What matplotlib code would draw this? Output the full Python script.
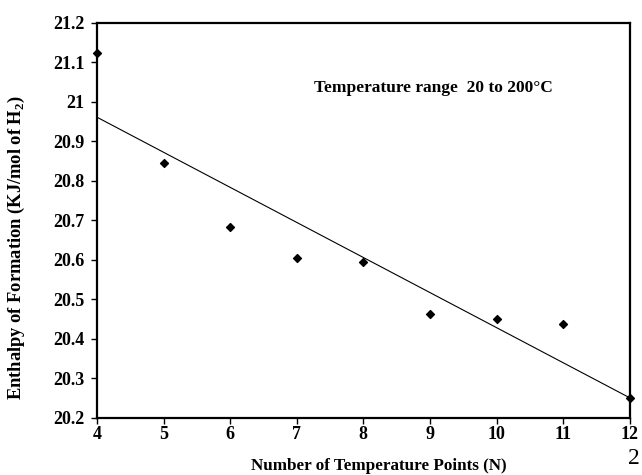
import numpy as np
import matplotlib
matplotlib.use("Agg")
from matplotlib import pyplot as plt

# data
n_points = [4, 5, 6, 7, 8, 9, 10, 11, 12]
enthalpy = [21.124, 20.846, 20.683, 20.605, 20.595, 20.463, 20.451, 20.438, 20.250]

plt.rcParams['font.family'] = ['Liberation Serif', 'DejaVu Serif']
plt.rcParams['font.weight'] = 'bold'
plt.rcParams['mathtext.fontset'] = 'custom'
plt.rcParams['mathtext.rm'] = 'Liberation Serif:bold'
plt.rcParams['mathtext.bf'] = 'Liberation Serif:bold'

fig = plt.figure(figsize=(6.42, 4.75), dpi=100)
ax = fig.add_axes([0.151, 0.12, 0.83, 0.832])

ax.scatter(n_points, enthalpy, marker='D', s=16, color='black', zorder=3, clip_on=False)

# linear trend line
coef = np.polyfit(n_points, enthalpy, 1)
xs = np.array([4, 12])
ax.plot(xs, np.polyval(coef, xs), color='black', linewidth=0.8)

ax.set_xlim(4, 12)
ax.set_ylim(20.2, 21.2)
ax.set_xticks(range(4, 13))
ax.set_yticks(np.arange(20.2, 21.21, 0.1))
ax.set_yticklabels(['20.2', '20.3', '20.4', '20.5', '20.6', '20.7', '20.8', '20.9', '21', '21.1', '21.2'])
ax.tick_params(axis='both', direction='out', length=4, width=1, labelsize=13)
ax.tick_params(axis='y', pad=5)
ax.tick_params(axis='x', pad=1.5)
for s in ax.spines.values():
    s.set_linewidth(1.6)

ax.set_xlabel('Number of Temperature Points (N)', fontsize=12.3, fontweight='bold')
ax.xaxis.set_label_coords(0.529, -0.101)
ax.set_ylabel('Enthalpy of Formation (KJ/mol of H$_2$)', fontsize=13.3, fontweight='bold')
ax.yaxis.set_label_coords(-0.131, 0.43)

ax.text(0.408, 0.835, 'Temperature range  20 to 200\u00b0C', transform=ax.transAxes,
        fontsize=12.5, fontweight='bold', ha='left', va='center')

fig.text(0.987, 0.035, '2', fontsize=17, fontweight='normal', ha='center', va='center')

fig.savefig('out.png', dpi=100)
